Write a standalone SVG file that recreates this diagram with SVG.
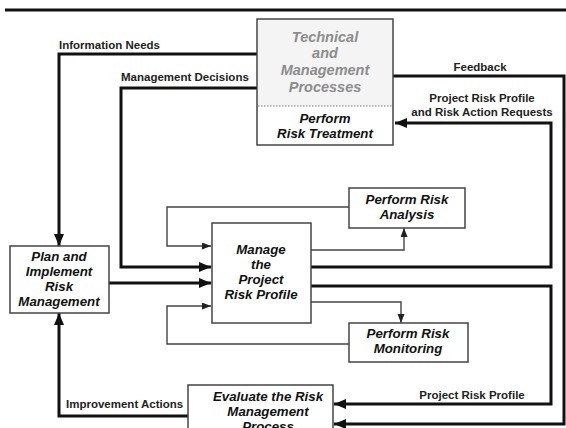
<svg xmlns="http://www.w3.org/2000/svg" width="566" height="428" viewBox="0 0 566 428">
<style>
.box{fill:#fff;stroke:#444;stroke-width:1.5}
.nt{font-family:"Liberation Sans",Arial,sans-serif;font-weight:bold;font-style:italic;font-size:13.3px;fill:#111;text-anchor:middle}
.gt{font-family:"Liberation Sans",Arial,sans-serif;font-weight:bold;font-style:italic;font-size:14.5px;fill:#8c8c8c;text-anchor:middle}
.lb{font-family:"Liberation Sans",Arial,sans-serif;font-weight:bold;font-size:11.5px;fill:#222}
.thick{fill:none;stroke:#111;stroke-width:3}
.thin{fill:none;stroke:#444;stroke-width:1.4}
</style>
<defs>
<marker id="ak" markerUnits="userSpaceOnUse" markerWidth="13" markerHeight="11" refX="12" refY="5" orient="auto">
<path d="M0,0 L12,5 L0,10 z" fill="#111"/>
</marker>
<marker id="an" markerUnits="userSpaceOnUse" markerWidth="10" markerHeight="8" refX="9" refY="3.5" orient="auto">
<path d="M0,0 L9,3.5 L0,7 z" fill="#222"/>
</marker>
</defs>
<path d="M5,10 H566" stroke="#111" stroke-width="3"/>
<g id="connectors">
<path class="thick" d="M257,54 H59 V246" marker-end="url(#ak)"/>
<path class="thick" d="M257,88 H121 V267 H211" marker-end="url(#ak)"/>
<path class="thick" d="M109,283 H211" marker-end="url(#ak)"/>
<path class="thin" d="M349,207 H167 V246 H211" marker-end="url(#an)"/>
<path class="thin" d="M349,344 H167 V306 H211" marker-end="url(#an)"/>
<path class="thin" d="M311,250 H404 V228" marker-end="url(#an)"/>
<path class="thin" d="M311,302 H401 V323" marker-end="url(#an)"/>
<path class="thick" d="M311,267 H551 V123 H395" marker-end="url(#ak)"/>
<path class="thick" d="M393,76 H564 V424 H334" marker-end="url(#ak)"/>
<path class="thick" d="M311,286 H551 V404 H334" marker-end="url(#ak)"/>
<path class="thick" d="M188,416 H59 V313" marker-end="url(#ak)"/>
<text class="lb" x="59" y="49">Information Needs</text>
<text class="lb" x="121" y="81">Management Decisions</text>
<text class="lb" x="480" y="71" text-anchor="middle">Feedback</text>
<text class="lb" x="482" y="102" text-anchor="middle">Project Risk Profile</text>
<text class="lb" x="482" y="116" text-anchor="middle">and Risk Action Requests</text>
<text class="lb" x="472" y="399" text-anchor="middle">Project Risk Profile</text>
<text class="lb" x="66" y="408">Improvement Actions</text>
</g>
<g id="technical">
<rect class="box" x="257" y="19" width="136" height="126"/>
<rect x="258" y="20" width="134" height="86" fill="#f4f4f4"/>
<path d="M258,106 H392" stroke="#777" stroke-width="1" stroke-dasharray="1.5,1.5"/>
<text class="gt" x="325" y="42">Technical</text>
<text class="gt" x="325" y="58">and</text>
<text class="gt" x="325" y="75">Management</text>
<text class="gt" x="325" y="92">Processes</text>
<text class="nt" x="325" y="123">Perform</text>
<text class="nt" x="325" y="138">Risk Treatment</text>
</g>
<g id="plan">
<rect class="box" x="10" y="246" width="99" height="67"/>
<text class="nt" x="59" y="261">Plan and</text>
<text class="nt" x="59" y="276">Implement</text>
<text class="nt" x="59" y="291">Risk</text>
<text class="nt" x="59" y="306">Management</text>
</g>
<g id="manage">
<rect class="box" x="212" y="223" width="99" height="100"/>
<text class="nt" x="261" y="254">Manage</text>
<text class="nt" x="261" y="269">the</text>
<text class="nt" x="261" y="284">Project</text>
<text class="nt" x="261" y="299">Risk Profile</text>
</g>
<g id="analysis">
<rect class="box" x="349" y="188" width="116" height="40"/>
<text class="nt" x="407" y="204">Perform Risk</text>
<text class="nt" x="407" y="219">Analysis</text>
</g>
<g id="monitoring">
<rect class="box" x="349" y="323" width="119" height="39"/>
<text class="nt" x="408" y="338">Perform Risk</text>
<text class="nt" x="408" y="353">Monitoring</text>
</g>
<g id="evaluate">
<rect class="box" x="188" y="385" width="145" height="60"/>
<text class="nt" x="268" y="401">Evaluate the Risk</text>
<text class="nt" x="268" y="416">Management</text>
<text class="nt" x="268" y="431">Process</text>
</g>
</svg>
